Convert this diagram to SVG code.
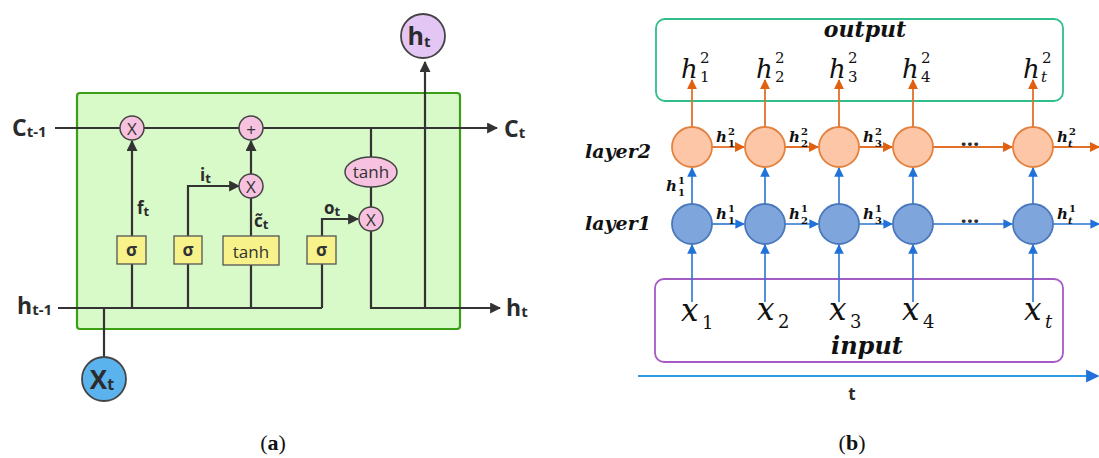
<svg xmlns="http://www.w3.org/2000/svg" width="1099" height="458" viewBox="0 0 1099 458">
<style>
.sa{font-family:"Open Sans","Noto Sans",sans-serif;font-weight:bold;fill:#2b2b2b}
.ln{fill:none;stroke:#333;stroke-width:2.2}
.op{fill:#f7c2df;stroke:#444;stroke-width:1.5}
.sg{fill:#f7f38a;stroke:#555;stroke-width:1.3}
.bx{font-family:"Open Sans","Noto Sans",sans-serif;fill:#333;font-size:17px}
.m{font-family:"DejaVu Serif","Liberation Serif",serif;font-style:italic;fill:#111}
.mb{font-family:"DejaVu Serif","Liberation Serif",serif;font-style:italic;font-weight:bold;fill:#111}
.up{font-style:normal}
.or{fill:none;stroke:#e0702a;stroke-width:1.8}
.bl{fill:none;stroke:#2a74d0;stroke-width:1.6}
.oc{fill:#fdc6a6;stroke:#e3813f;stroke-width:1.8}
.bc{fill:#7fa6dc;stroke:#4a78bd;stroke-width:1.8}
.cap{font-family:"Liberation Serif",serif;font-size:22px;fill:#111}
</style>
<defs>
<marker id="ak" viewBox="0 0 10 10" refX="9" refY="5" markerWidth="5" markerHeight="5" orient="auto" markerUnits="strokeWidth"><path d="M0,0L10,5L0,10Z" fill="#333"/></marker>
<marker id="ao" viewBox="0 0 10 10" refX="9" refY="5" markerWidth="5.5" markerHeight="5.5" orient="auto" markerUnits="strokeWidth"><path d="M0,0L10,5L0,10Z" fill="#e0600f"/></marker>
<marker id="ab" viewBox="0 0 10 10" refX="9" refY="5" markerWidth="6" markerHeight="6" orient="auto" markerUnits="strokeWidth"><path d="M0,0L10,5L0,10Z" fill="#1f72d8"/></marker>
</defs>

<!-- ===== (a) LSTM cell ===== -->
<g id="cell"><rect x="77" y="93" width="383" height="236" rx="3" fill="#d8f9c8" stroke="#3a9e16" stroke-width="2.2"/></g>

<g id="connectors-a">
<path class="ln" d="M55,128H497" marker-end="url(#ak)"/>
<path class="ln" d="M132,236V141" marker-end="url(#ak)"/>
<path class="ln" d="M188,236V186H239" marker-end="url(#ak)"/>
<path class="ln" d="M251,236V198"/>
<path class="ln" d="M251,174V141" marker-end="url(#ak)"/>
<path class="ln" d="M371,128V157M371,187V207"/>
<path class="ln" d="M322,236V219H358" marker-end="url(#ak)"/>
<path class="ln" d="M132,264V308M188,264V308M251,265V308M322,264V308"/>
<path class="ln" d="M58,308H322"/>
<path class="ln" d="M104,308V356"/>
<path class="ln" d="M371,231V308H500" marker-end="url(#ak)"/>
<path class="ln" d="M425,308V62" marker-end="url(#ak)"/>
</g>

<g id="mul-f"><circle class="op" cx="132" cy="128" r="12"/><text x="132" y="135" text-anchor="middle" class="bx" font-size="19">X</text></g>
<g id="add"><circle class="op" cx="251" cy="128" r="12"/><text x="251" y="136" text-anchor="middle" class="bx" font-size="24">+</text></g>
<g id="mul-i"><circle class="op" cx="251" cy="186" r="12"/><text x="251" y="193" text-anchor="middle" class="bx" font-size="19">X</text></g>
<g id="mul-o"><circle class="op" cx="371" cy="219" r="12"/><text x="371" y="226" text-anchor="middle" class="bx" font-size="19">X</text></g>
<g id="tanh-c"><ellipse class="op" cx="371" cy="172" rx="26" ry="15"/><text x="371" y="178" text-anchor="middle" class="bx" font-size="18">tanh</text></g>

<g id="sig-f"><rect class="sg" x="117" y="236" width="29" height="28"/><text x="131.5" y="256" text-anchor="middle" class="bx" font-weight="bold">σ</text></g>
<g id="sig-i"><rect class="sg" x="174" y="236" width="28" height="28"/><text x="188" y="256" text-anchor="middle" class="bx" font-weight="bold">σ</text></g>
<g id="tanh-g"><rect class="sg" x="223" y="236" width="56" height="29"/><text x="251" y="258" text-anchor="middle" class="bx" font-size="20">tanh</text></g>
<g id="sig-o"><rect class="sg" x="307" y="236" width="29" height="28"/><text x="321.5" y="256" text-anchor="middle" class="bx" font-weight="bold">σ</text></g>

<g id="ht-out"><circle cx="423" cy="36" r="22" fill="#e3c6f4" stroke="#444" stroke-width="1.8"/><text x="419" y="45" text-anchor="middle" class="sa" font-size="25" fill="#111">h<tspan font-size="15" dy="2">t</tspan></text></g>
<g id="xt-in"><circle cx="104" cy="379" r="22" fill="#5bb3ee" stroke="#444" stroke-width="1.8"/><text x="102" y="389" text-anchor="middle" class="sa" font-size="26" fill="#111">X<tspan font-size="16" dy="1">t</tspan></text></g>

<g id="labels-a">
<text x="12" y="136" class="sa" font-size="23">C<tspan font-size="15" dy="1">t-1</tspan></text>
<text x="504" y="137" class="sa" font-size="23">C<tspan font-size="15" dy="1">t</tspan></text>
<text x="17" y="314" class="sa" font-size="23">h<tspan font-size="15" dy="1">t-1</tspan></text>
<text x="506" y="316" class="sa" font-size="23">h<tspan font-size="15" dy="1">t</tspan></text>
<text x="137" y="214" class="sa" font-size="17">f<tspan font-size="13" dy="2">t</tspan></text>
<text x="200" y="181" class="sa" font-size="17">i<tspan font-size="13" dy="2">t</tspan></text>
<text x="254" y="227" class="sa" font-size="17">c̃<tspan font-size="13" dy="2">t</tspan></text>
<text x="324" y="214" class="sa" font-size="17">o<tspan font-size="13" dy="2">t</tspan></text>
</g>
<text x="273" y="450" text-anchor="middle" class="cap">(<tspan font-weight="bold">a</tspan>)</text>

<!-- ===== (b) stacked RNN ===== -->
<g id="output-box"><rect x="656" y="19" width="407" height="82" rx="9" fill="none" stroke="#2fbf8a" stroke-width="1.8"/><text x="865" y="37" text-anchor="middle" class="mb" font-size="22">output</text></g>
<g id="input-box"><rect x="655" y="279" width="408" height="83" rx="9" fill="none" stroke="#a45bc4" stroke-width="1.8"/><text x="867" y="354" text-anchor="middle" class="mb" font-size="24">input</text></g>

<g id="connectors-b">
<path class="or" d="M692,127V80" marker-end="url(#ao)"/>
<path class="or" d="M765,127V80" marker-end="url(#ao)"/>
<path class="or" d="M839,127V80" marker-end="url(#ao)"/>
<path class="or" d="M913,127V80" marker-end="url(#ao)"/>
<path class="or" d="M1033,127V80" marker-end="url(#ao)"/>
<path class="or" d="M712,147H744" marker-end="url(#ao)"/>
<path class="or" d="M785,147H818" marker-end="url(#ao)"/>
<path class="or" d="M859,147H892" marker-end="url(#ao)"/>
<path class="or" d="M933,147H1012" marker-end="url(#ao)"/>
<path class="or" d="M1053,147H1099" marker-end="url(#ao)"/>
<path class="bl" d="M692,204V168" marker-end="url(#ab)"/>
<path class="bl" d="M765,204V168" marker-end="url(#ab)"/>
<path class="bl" d="M839,204V168" marker-end="url(#ab)"/>
<path class="bl" d="M913,204V168" marker-end="url(#ab)"/>
<path class="bl" d="M1033,204V168" marker-end="url(#ab)"/>
<path class="bl" d="M712,224H744" marker-end="url(#ab)"/>
<path class="bl" d="M785,224H818" marker-end="url(#ab)"/>
<path class="bl" d="M859,224H892" marker-end="url(#ab)"/>
<path class="bl" d="M933,224H1012" marker-end="url(#ab)"/>
<path class="bl" d="M1053,224H1099" marker-end="url(#ab)"/>
<path class="bl" d="M692,302V245" marker-end="url(#ab)"/>
<path class="bl" d="M765,302V245" marker-end="url(#ab)"/>
<path class="bl" d="M839,302V245" marker-end="url(#ab)"/>
<path class="bl" d="M913,302V245" marker-end="url(#ab)"/>
<path class="bl" d="M1033,302V245" marker-end="url(#ab)"/>
<path d="M638,376H1098" fill="none" stroke="#2d9be0" stroke-width="2.2" marker-end="url(#ab)"/>
</g>

<g id="layer2-nodes">
<circle id="o1" class="oc" cx="692" cy="147" r="20"/>
<circle id="o2" class="oc" cx="765" cy="147" r="20"/>
<circle id="o3" class="oc" cx="839" cy="147" r="20"/>
<circle id="o4" class="oc" cx="913" cy="147" r="20"/>
<circle id="o5" class="oc" cx="1033" cy="147" r="20"/>
</g>
<g id="layer1-nodes">
<circle id="b1" class="bc" cx="692" cy="224" r="20"/>
<circle id="b2" class="bc" cx="765" cy="224" r="20"/>
<circle id="b3" class="bc" cx="839" cy="224" r="20"/>
<circle id="b4" class="bc" cx="913" cy="224" r="20"/>
<circle id="b5" class="bc" cx="1033" cy="224" r="20"/>
</g>

<g id="labels-b">
<text x="585" y="158" class="mb" font-size="19">layer2</text>
<text x="585" y="230" class="mb" font-size="19">layer1</text>
<g class="m" font-size="26">
<text x="681" y="78">h<tspan class="up" x="700" y="63" font-size="15">2</tspan><tspan class="up" x="700" y="82" font-size="15">1</tspan></text>
<text x="756" y="78">h<tspan class="up" x="775" y="63" font-size="15">2</tspan><tspan class="up" x="775" y="82" font-size="15">2</tspan></text>
<text x="829" y="78">h<tspan class="up" x="848" y="63" font-size="15">2</tspan><tspan class="up" x="848" y="82" font-size="15">3</tspan></text>
<text x="902" y="78">h<tspan class="up" x="921" y="63" font-size="15">2</tspan><tspan class="up" x="921" y="82" font-size="15">4</tspan></text>
<text x="1023" y="78">h<tspan class="up" x="1042" y="63" font-size="15">2</tspan><tspan x="1041" y="82" font-size="15">t</tspan></text>
</g>
<g class="m" font-size="31">
<text x="681" y="321">x<tspan class="up" x="702" y="329" font-size="18">1</tspan></text>
<text x="757" y="320">x<tspan class="up" x="778" y="328" font-size="18">2</tspan></text>
<text x="829" y="320">x<tspan class="up" x="850" y="328" font-size="18">3</tspan></text>
<text x="902" y="320">x<tspan class="up" x="923" y="328" font-size="18">4</tspan></text>
<text x="1024" y="320">x<tspan x="1045" y="328" font-size="18">t</tspan></text>
</g>
<g class="mb" font-size="15">
<text x="716" y="142">h<tspan class="up" x="728" y="135" font-size="10">2</tspan><tspan class="up" x="728" y="147" font-size="10">1</tspan></text>
<text x="789" y="142">h<tspan class="up" x="801" y="135" font-size="10">2</tspan><tspan class="up" x="801" y="147" font-size="10">2</tspan></text>
<text x="863" y="142">h<tspan class="up" x="875" y="135" font-size="10">2</tspan><tspan class="up" x="875" y="147" font-size="10">3</tspan></text>
<text x="1057" y="142">h<tspan class="up" x="1069" y="135" font-size="10">2</tspan><tspan x="1068" y="147" font-size="10">t</tspan></text>
<text x="716" y="219">h<tspan class="up" x="728" y="212" font-size="10">1</tspan><tspan class="up" x="728" y="224" font-size="10">1</tspan></text>
<text x="789" y="219">h<tspan class="up" x="801" y="212" font-size="10">1</tspan><tspan class="up" x="801" y="224" font-size="10">2</tspan></text>
<text x="863" y="219">h<tspan class="up" x="875" y="212" font-size="10">1</tspan><tspan class="up" x="875" y="224" font-size="10">3</tspan></text>
<text x="1057" y="219">h<tspan class="up" x="1069" y="212" font-size="10">1</tspan><tspan x="1068" y="224" font-size="10">t</tspan></text>
<text x="666" y="191">h<tspan class="up" x="678" y="184" font-size="10">1</tspan><tspan class="up" x="678" y="196" font-size="10">1</tspan></text>
</g>
<text x="970" y="146" text-anchor="middle" class="sa" font-size="22" fill="#111">…</text>
<text x="970" y="223" text-anchor="middle" class="sa" font-size="22" fill="#111">…</text>
<text x="852" y="400" text-anchor="middle" class="sa" font-size="17" fill="#111">t</text>
</g>
<text x="852" y="450" text-anchor="middle" class="cap">(<tspan font-weight="bold">b</tspan>)</text>
</svg>
